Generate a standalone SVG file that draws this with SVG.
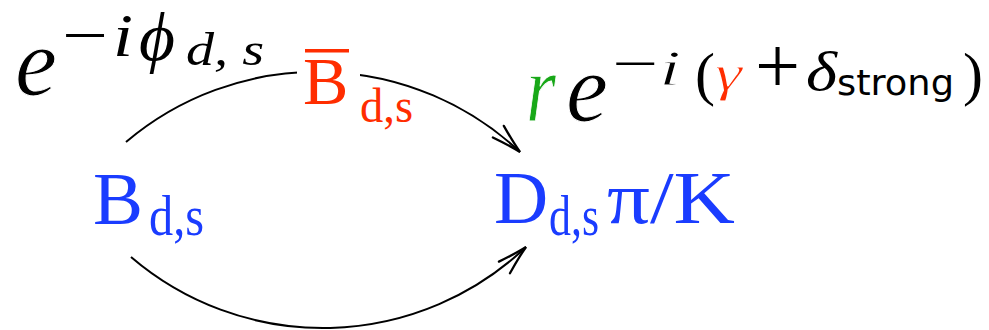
<svg xmlns="http://www.w3.org/2000/svg" width="989" height="330" viewBox="0 0 989 330">
<style>
.m{font-family:"Liberation Serif","DejaVu Serif",serif;font-style:italic;fill:#000}
.thin{stroke:#fff;stroke-width:1}
.u{font-family:"Liberation Serif","DejaVu Serif",serif;fill:#000}
.sf{font-family:"DejaVu Sans","Liberation Sans",sans-serif;fill:#000}
.blue{fill:#1a3cff}
.red{fill:#ff2d00}
.green{fill:#18a818}
.arc{fill:none;stroke:#000;stroke-width:2}
</style>
<defs>
<marker id="arr" markerUnits="userSpaceOnUse" markerWidth="40" markerHeight="40" refX="0" refY="0" viewBox="-30 -15 35 30" orient="auto" overflow="visible">
<path d="M-26,-7 Q-10,-2 0,0 Q-10,2 -26,7" fill="none" stroke="#000" stroke-width="2" stroke-linecap="round"/>
</marker>
<mask id="gap" maskUnits="userSpaceOnUse" x="0" y="0" width="989" height="330">
<rect x="0" y="0" width="989" height="330" fill="#fff"/>
<rect x="297" y="40" width="63" height="90" fill="#000"/>
</mask>
</defs>
<g id="connectors">
<path class="arc" d="M126,142 A296,296 0 0 1 520,152" mask="url(#gap)" marker-end="url(#arr)"/>
<path class="arc" d="M131,257 A295,295 0 0 0 526,247" marker-end="url(#arr)"/>
</g>
<g id="label-phase-left">
<text class="m thin" x="15" y="95" font-size="98" textLength="42" lengthAdjust="spacingAndGlyphs">e</text>
<text class="u" x="62" y="56" font-size="62" textLength="46" lengthAdjust="spacingAndGlyphs">−</text>
<text class="m" x="113" y="56" font-size="62" textLength="20" lengthAdjust="spacingAndGlyphs">i</text>
<text class="m" x="139" y="60" font-size="68" textLength="36" lengthAdjust="spacingAndGlyphs">ϕ</text>
<text class="m" x="186" y="65" font-size="46" textLength="78" lengthAdjust="spacingAndGlyphs">d, s</text>
</g>
<g id="node-Bbar">
<rect class="red" x="305" y="49" width="44" height="3.5"/>
<text class="u red" x="303" y="104" font-size="68">B</text>
<text class="u red" x="360" y="122" font-size="48" textLength="53" lengthAdjust="spacingAndGlyphs">d,s</text>
</g>
<g id="label-phase-right">
<text class="m green thin" x="526" y="121" font-size="98" textLength="30" lengthAdjust="spacingAndGlyphs">r</text>
<text class="m thin" x="566" y="121" font-size="98" textLength="42" lengthAdjust="spacingAndGlyphs">e</text>
<text class="u" x="612" y="81" font-size="52" textLength="46" lengthAdjust="spacingAndGlyphs">−</text>
<text class="m thin" x="659" y="85" font-size="50" textLength="22" lengthAdjust="spacingAndGlyphs" stroke-width="0.7">i</text>
<text class="u" x="695" y="94" font-size="60">(</text>
<text class="m red thin" x="715" y="90" font-size="50" textLength="27" lengthAdjust="spacingAndGlyphs" stroke-width="0.8">γ</text>
<text class="u" x="755" y="93" font-size="80">+</text>
<text class="m" x="806" y="90" font-size="54" textLength="31" lengthAdjust="spacingAndGlyphs">δ</text>
<text class="sf" x="837" y="95" font-size="36" textLength="117" lengthAdjust="spacingAndGlyphs">strong</text>
<text class="u" x="963" y="94" font-size="60">)</text>
</g>
<g id="node-B">
<text class="u blue" x="93" y="224" font-size="75">B</text>
<text class="u blue" x="149" y="235" font-size="56" textLength="55" lengthAdjust="spacingAndGlyphs">d,s</text>
</g>
<g id="node-D">
<text class="u blue" x="494" y="223" font-size="75">D</text>
<text class="u blue" x="549" y="235" font-size="56" textLength="50" lengthAdjust="spacingAndGlyphs">d,s</text>
<text class="u blue" x="607" y="223" font-size="75" textLength="128" lengthAdjust="spacingAndGlyphs">π/K</text>
</g>
</svg>
